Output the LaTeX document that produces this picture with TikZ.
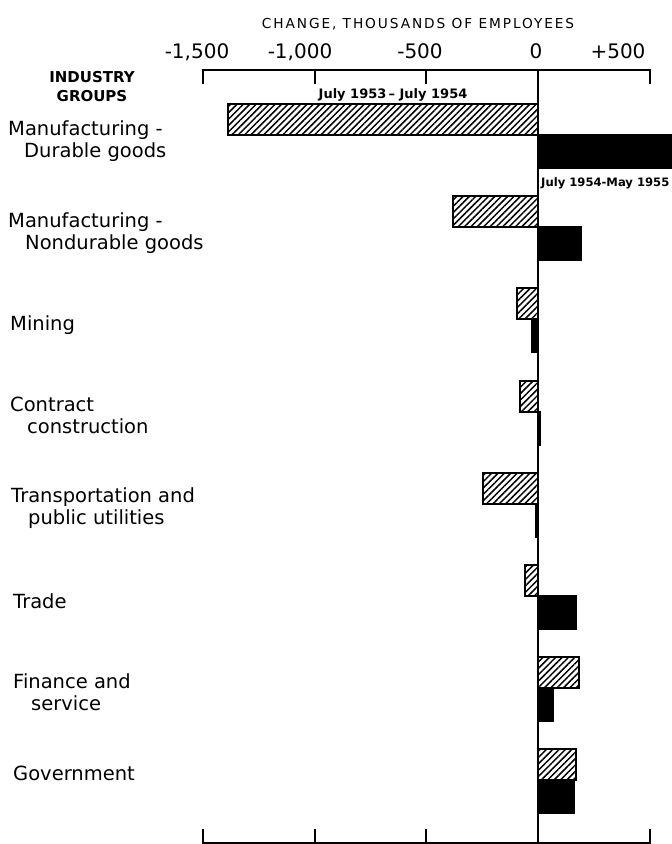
\documentclass[tikz,border=0pt]{standalone}
\usepackage{fontspec}
\setmainfont{DejaVu Sans}
\newfontfamily\spacedfont[LetterSpace=14]{DejaVu Sans}
\usetikzlibrary{patterns.meta}

\begin{document}
\begin{tikzpicture}[x=1pt, y=-1pt,
				group/.style={anchor=base west, inner sep=0pt, align=left, font=\fontsize{19.5}{22}\selectfont},
				scalelabel/.style={anchor=base, inner sep=0pt, font=\fontsize{20}{24}\selectfont},
				period/.style={inner sep=0pt, font=\fontsize{12}{14}\selectfont\bfseries},
				earlybar/.style={draw=black, line width=1.6pt, pattern={Lines[angle=45,distance=4.5pt,line width=1.5pt]}},
				latebar/.style={draw=black, fill=black, line width=1.6pt},
				axis/.style={black, line width=1.8pt}]
				\useasboundingbox (0,0) rectangle (672,844);
				% headings
				\node at (418,24) (title) [inner sep=0pt, font=\spacedfont\fontsize{13.7}{16}\selectfont] {CHANGE, THOUSANDS OF EMPLOYEES};
				\node at (92,87) (groups) [inner sep=0pt, align=center, font=\bfseries\fontsize{15}{19}\selectfont] {INDUSTRY\\GROUPS};
				% scale
				\node at (197,58) (m1500) [scalelabel] {-1,500};
				\node at (300,58) (m1000) [scalelabel] {-1,000};
				\node at (420,58) (m500) [scalelabel] {-500};
				\node at (536,58) (zero) [scalelabel] {0};
				\node at (618,58) (p500) [scalelabel] {+500};
				% industry groups (base = last line)
				\node at (8,157) (durable) [group] {Manufacturing -\\\hspace*{16pt}Durable goods};
				\node at (8,249) (nondurable) [group] {Manufacturing -\\\hspace*{17pt}Nondurable goods};
				\node at (10,330) (mining) [group] {Mining};
				\node at (10,433) (construction) [group] {Contract\\\hspace*{17pt}construction};
				\node at (11,524) (transport) [group] {Transportation and\\\hspace*{17pt}public utilities};
				\node at (13,608) (trade) [group] {Trade};
				\node at (13,710) (finance) [group] {Finance and\\\hspace*{18pt}service};
				\node at (13,780) (government) [group] {Government};
				% periods
				\node at (393,98) (early) [period, anchor=base, font=\fontsize{13}{15}\selectfont\bfseries] {July 1953\,-- July 1954};
				\node at (541,186) (late) [period, anchor=base west, font=\fontsize{11.6}{14}\selectfont\bfseries] {July 1954-May 1955};
				\begin{scope}[shift={(538,0)}, x=0.2233pt]
					\foreach \rowy/\early/\late in {104/-1388/650, 196/-381/193, 288/-94/-27, 381/-81/8, 473/-246/-12, 565/-58/170, 657/184/67, 749/170/161}
					{
						\draw[earlybar] (0,\rowy) rectangle (\early,\rowy+31);
						\draw[latebar] (0,\rowy+31) rectangle (\late,\rowy+64);
					}
					\draw[axis] (-1500,84) -- (-1500,70) -- (500,70) -- (500,84);
					\foreach \v in {-1000,-500}
						\draw[axis] (\v,70) -- (\v,84);
					\draw[axis] (0,70) -- (0,845);
					\draw[axis] (-1500,829) -- (-1500,843) -- (500,843) -- (500,829);
					\foreach \v in {-1000,-500}
						\draw[axis] (\v,829) -- (\v,843);
				\end{scope}
			\end{tikzpicture}
\end{document}
